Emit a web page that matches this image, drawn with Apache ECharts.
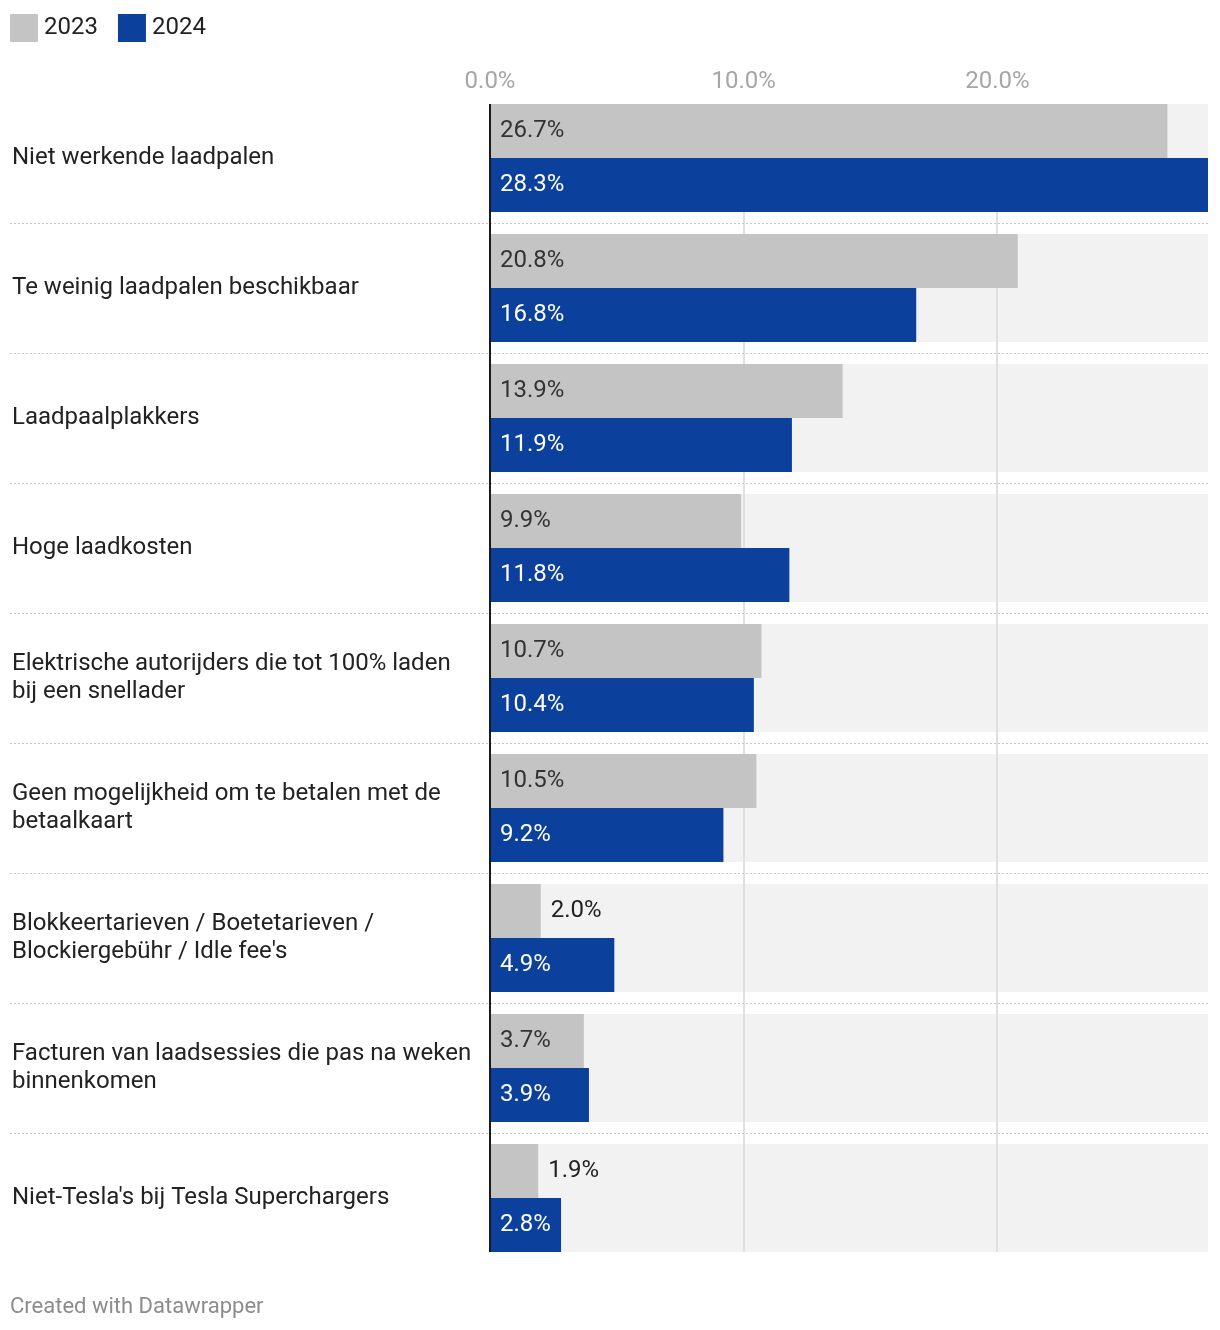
<!DOCTYPE html>
<html><head><meta charset="utf-8">
<script src="https://cdn.jsdelivr.net/npm/echarts@6/dist/echarts.min.js"></script>
<style>html,body{margin:0;padding:0;background:#fff}#c{width:1220px;height:1330px}</style>
</head><body><div id="c"></div>
<script>
const categories = [
  'Niet werkende laadpalen',
  'Te weinig laadpalen beschikbaar',
  'Laadpaalplakkers',
  'Hoge laadkosten',
  'Elektrische autorijders die tot 100% laden\nbij een snellader',
  'Geen mogelijkheid om te betalen met de\nbetaalkaart',
  'Blokkeertarieven / Boetetarieven /\nBlockiergebühr / Idle fee\'s',
  'Facturen van laadsessies die pas na weken\nbinnenkomen',
  'Niet-Tesla\'s bij Tesla Superchargers'
];
const values2023 = [26.7, 20.8, 13.9, 9.9, 10.7, 10.5, 2.0, 3.7, 1.9];
const values2024 = [28.3, 16.8, 11.9, 11.8, 10.4, 9.2, 4.9, 3.9, 2.8];
const tickValues = [0, 10, 20];
const seriesNames = ['2023', '2024'];
const footerText = 'Created with Datawrapper';

const FONT = 'Roboto';
const BAR_W = 54;
const COLORS = ['#c4c4c4', '#0b409c'];
const fmt = v => v.toFixed(1) + '%';

function makeData(vals, insideColor, outsideColor) {
  return vals.map(v => ({
    value: v,
    label: v < 2.5 ? { position: 'right', distance: 10, color: outsideColor }
                   : { position: 'insideLeft', distance: 10, color: insideColor }
  }));
}

const chart = echarts.init(document.getElementById('c'), null, { renderer: 'canvas' });

const option = {
  animation: false,
  backgroundColor: '#fff',
  textStyle: { fontFamily: FONT },
  color: COLORS,
  legend: {
    data: seriesNames,
    left: 10, top: 14, padding: 0,
    itemWidth: 28, itemHeight: 28, itemGap: 20,
    icon: 'rect',
    selectedMode: false,
    textStyle: { fontFamily: FONT, fontSize: 24, color: '#222', padding: [0, 0, 0, 1] }
  },
  grid: { left: 490, right: 12, top: 93, bottom: 67, containLabel: false },
  xAxis: {
    type: 'value', position: 'top',
    min: 0, max: v => v.max, interval: 10,
    axisLine: { show: false }, axisTick: { show: false },
    splitLine: { show: false },
    axisLabel: {
      fontFamily: FONT, fontSize: 24, color: '#a6a6a6', margin: -1,
      formatter: v => tickValues.indexOf(v) >= 0 ? fmt(v) : ''
    }
  },
  yAxis: {
    type: 'category', inverse: true, data: categories,
    axisLine: { show: false }, axisTick: { show: false }, splitLine: { show: false },
    axisLabel: {
      align: 'left', margin: 478, fontFamily: FONT, fontSize: 24,
      color: '#222', lineHeight: 28, padding: [8, 0, 0, 0]
    }
  },
  series: [
    {
      name: seriesNames[0], type: 'bar', barWidth: BAR_W, barGap: '0%', z: 2,
      itemStyle: { color: COLORS[0] },
      label: { show: true, fontFamily: FONT, fontSize: 24, padding: [4, 0, 0, 0], formatter: p => fmt(p.value) },
      data: makeData(values2023, '#333', '#222')
    },
    {
      name: seriesNames[1], type: 'bar', barWidth: BAR_W, barGap: '0%', z: 2,
      itemStyle: { color: COLORS[1] },
      label: { show: true, fontFamily: FONT, fontSize: 24, padding: [4, 0, 0, 0], formatter: p => fmt(p.value) },
      data: makeData(values2024, '#fff', '#fff')
    }
  ]
};
chart.setOption(option);

// Decorations computed from the chart's own scales
const els = [];
const x0 = chart.convertToPixel({ gridIndex: 0 }, [0, 0])[0];
const xMax = chart.convertToPixel({ gridIndex: 0 }, [Math.max(...values2023, ...values2024), 0])[0];
const centers = categories.map((c, i) => chart.convertToPixel({ gridIndex: 0 }, [0, i])[1]);
const topY = centers[0] - BAR_W;
const botY = centers[centers.length - 1] + BAR_W;

centers.forEach(cy => {
  els.push({ type: 'rect', z: 0, silent: true,
    shape: { x: x0, y: cy - BAR_W, width: xMax - x0, height: BAR_W * 2 },
    style: { fill: '#f2f2f2' } });
});
tickValues.filter(v => v > 0).forEach(v => {
  const x = Math.round(chart.convertToPixel({ gridIndex: 0 }, [v, 0])[0]);
  els.push({ type: 'line', z: 1, silent: true,
    shape: { x1: x, y1: topY, x2: x, y2: botY },
    style: { stroke: '#e0e0e0', lineWidth: 2 } });
});
for (let i = 0; i < centers.length - 1; i++) {
  const y = Math.round((centers[i] + centers[i + 1]) / 2) + 0.5;
  els.push({ type: 'line', z: 1, silent: true,
    shape: { x1: 10, y1: y, x2: xMax, y2: y },
    style: { stroke: '#c8c8c8', lineWidth: 1, lineDash: [2, 2] } });
}
els.push({ type: 'line', z: 10, silent: true,
  shape: { x1: x0, y1: topY, x2: x0, y2: botY },
  style: { stroke: '#1a1a1a', lineWidth: 2 } });
els.push({ type: 'text', z: 10, silent: true, left: 10, top: 1296,
  style: { text: footerText, fill: '#8c8c8c', font: '22px ' + FONT } });

chart.setOption({ graphic: { elements: els } });
</script></body></html>
